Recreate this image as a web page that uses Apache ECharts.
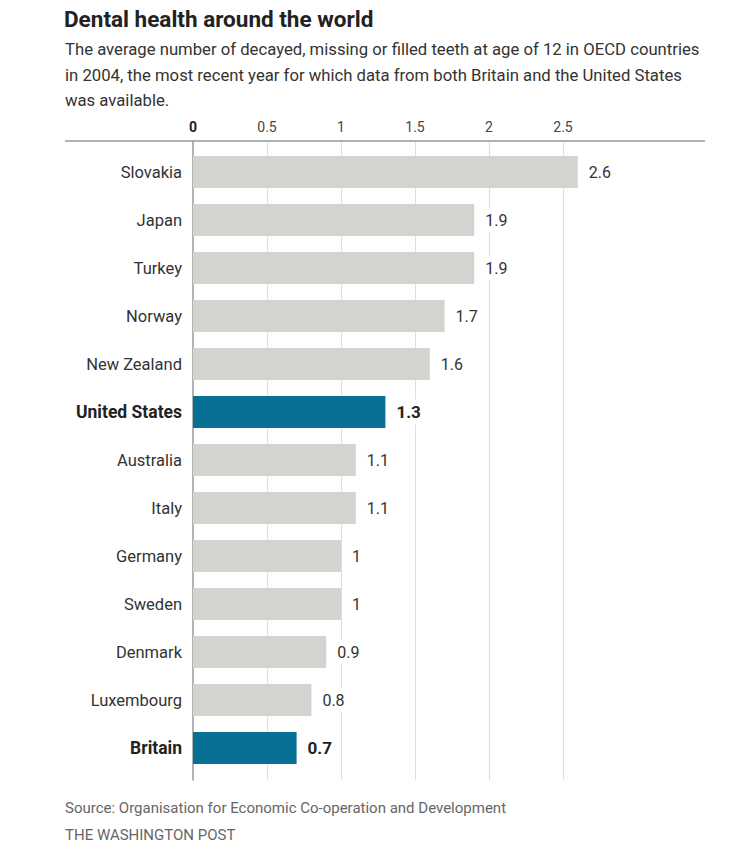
<!DOCTYPE html>
<html><head><meta charset="utf-8">
<script src="https://cdn.jsdelivr.net/npm/echarts@6/dist/echarts.min.js"></script>
<style>html,body{margin:0;padding:0;background:#fff}#c{width:751px;height:851px}</style>
</head><body><div id="c"></div>
<script>
const countries = ["Slovakia","Japan","Turkey","Norway","New Zealand","United States","Australia","Italy","Germany","Sweden","Denmark","Luxembourg","Britain"];
const values = [2.6,1.9,1.9,1.7,1.6,1.3,1.1,1.1,1,1,0.9,0.8,0.7];
const highlighted = ["United States","Britain"];
const tickLabels = [0,0.5,1,1.5,2,2.5];

const FONT = "Roboto";
const chart = echarts.init(document.getElementById('c'), null, {renderer:'svg'});
const xMax = 3;
const left = 193, width = 444;
chart.setOption({
  backgroundColor:'#fff',
  animation:false,
  textStyle:{fontFamily:FONT},
  title:[
    {text:"Dental health around the world", left:59, top:2, padding:[5,5,5,5],
     textStyle:{fontFamily:FONT, fontSize:22.5, fontWeight:'bold', color:'#222'}},
    {text:"The average number of decayed, missing or filled teeth at age of 12 in OECD countries\nin 2004, the most recent year for which data from both Britain and the United States\nwas available.",
     left:60, top:32,
     textStyle:{fontFamily:FONT, fontSize:16.7, fontWeight:'normal', color:'#333', lineHeight:25.5}},
    {text:"Source: Organisation for Economic Co-operation and Development", left:60, top:795,
     textStyle:{fontFamily:FONT, fontSize:15, fontWeight:'normal', color:'#666'}},
    {text:"THE WASHINGTON POST", left:60, top:822,
     textStyle:{fontFamily:FONT, fontSize:15, fontWeight:'normal', color:'#666'}}
  ],
  graphic:[{type:'line', shape:{x1:65,y1:141,x2:705,y2:141}, style:{stroke:'#999', lineWidth:1.5}, z:10}],
  grid:[
    {left:left, width:width, top:141, height:639},
    {left:left, width:width, top:148, height:624}
  ],
  xAxis:[
    {gridIndex:0, type:'value', position:'top', min:0, max:xMax, interval:0.5,
     axisLine:{show:false}, axisTick:{show:false},
     splitLine:{show:true, showMinLine:false, showMaxLine:false, lineStyle:{color:'#ddd', width:1}},
     axisLabel:{showMaxLabel:false, margin:7, fontSize:14, color:'#444', fontFamily:FONT,
       formatter:v=> tickLabels.includes(v) ? (v===0?'{b|0}':String(v)) : '',
       rich:{b:{fontWeight:'bold', fontSize:14, color:'#222', fontFamily:FONT}}}},
    {gridIndex:1, type:'value', min:0, max:xMax, show:false}
  ],
  yAxis:[
    {gridIndex:0, type:'value', min:0, max:1, show:true, axisLabel:{show:false}, splitLine:{show:false},
     axisTick:{show:false}, axisLine:{show:true, lineStyle:{color:'#999', width:1.5}}},
    {gridIndex:1, type:'category', data:countries, inverse:true,
     axisLine:{show:false}, axisTick:{show:false},
     axisLabel:{margin:11, fontSize:16.5, color:'#333', fontFamily:FONT,
       formatter:v=> highlighted.includes(v) ? '{b|'+v+'}' : v,
       rich:{b:{fontWeight:'bold', fontSize:17.5, color:'#222', fontFamily:FONT}}}}
  ],
  series:[{
    type:'bar', xAxisIndex:1, yAxisIndex:1, barWidth:32,
    data: values.map((v,i)=>({value:v,
      itemStyle:{color: highlighted.includes(countries[i]) ? '#077094' : '#d3d3cf'},
      label:{fontWeight: highlighted.includes(countries[i]) ? 'bold' : 'normal',
             fontSize: highlighted.includes(countries[i]) ? 17 : 16,
             color: highlighted.includes(countries[i]) ? '#222' : '#333'}})),
    label:{show:true, position:'right', distance:6, fontSize:16, fontFamily:FONT,
      backgroundColor:'#fff', padding:[4,5,4,5], formatter:p=>String(p.value)},
    z:5
  }]
});
</script></body></html>
